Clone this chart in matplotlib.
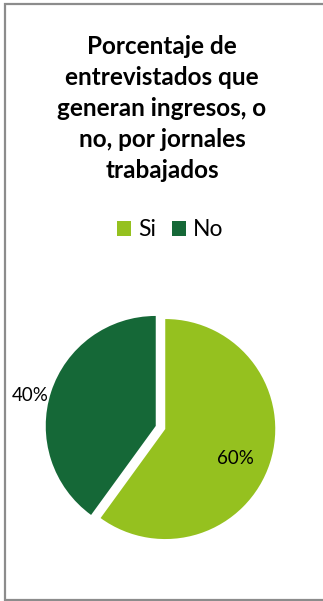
import matplotlib
matplotlib.use("Agg")
import matplotlib.pyplot as plt
import numpy as np
from matplotlib.patches import Patch

categories = ["Si", "No"]
values = [60, 40]
colors = ["#95C11F", "#156837"]
title = "Porcentaje de\nentrevistados que\ngeneran ingresos, o\nno, por jornales\ntrabajados"

W, H = 323, 601
fig = plt.figure(figsize=(W / 100, H / 100), dpi=100)
ax = fig.add_axes([0, 0, 1, 1])

fam = ["Lato", "DejaVu Sans"]

cx, cy, r = 160.5, H - 427.5, 110
wedges, _ = ax.pie(values, colors=colors, startangle=90, counterclock=False,
                   center=(cx, cy), radius=r, explode=[5, 5],
                   wedgeprops=dict(linewidth=0))
ax.set_xlim(0, W)
ax.set_ylim(0, H)
ax.set_aspect("equal")
ax.axis("off")

# border (left, top, bottom)
ax.plot([W + 5, 4.5, 4.5, W + 5], [H - 3.5, H - 3.5, 1.5, 1.5], color="#8c8c8c", lw=1.6,
        solid_joinstyle="miter", clip_on=False)

ax.text(162, H - 108.5, title, ha="center", va="center", fontsize=17.5, fontweight="bold",
        family=fam, linespacing=1.41, color="black")

# label placement: distance (fraction of radius) and angular offset from wedge middle
dist = [0.69, 1.17]
ang_off = [-4.5, 4.5]
for w, v, d, a in zip(wedges, values, dist, ang_off):
    mid = np.deg2rad((w.theta1 + w.theta2) / 2 + a)
    x = w.center[0] + d * r * np.cos(mid)
    y = w.center[1] + d * r * np.sin(mid)
    ax.text(x, y, f"{v}%", ha="center", va="center", fontsize=13.5, family=fam, color="black")

handles = [Patch(facecolor=c, edgecolor="none") for c in colors]
fig.legend(handles, categories, loc="center", bbox_to_anchor=(170 / W, 1 - 230 / H), ncol=2,
           frameon=False, handlelength=0.62, handleheight=0.62, handletextpad=0.3,
           columnspacing=0.7, prop={"family": fam, "size": 16.5})

fig.savefig("out.png", dpi=100, facecolor="white")
